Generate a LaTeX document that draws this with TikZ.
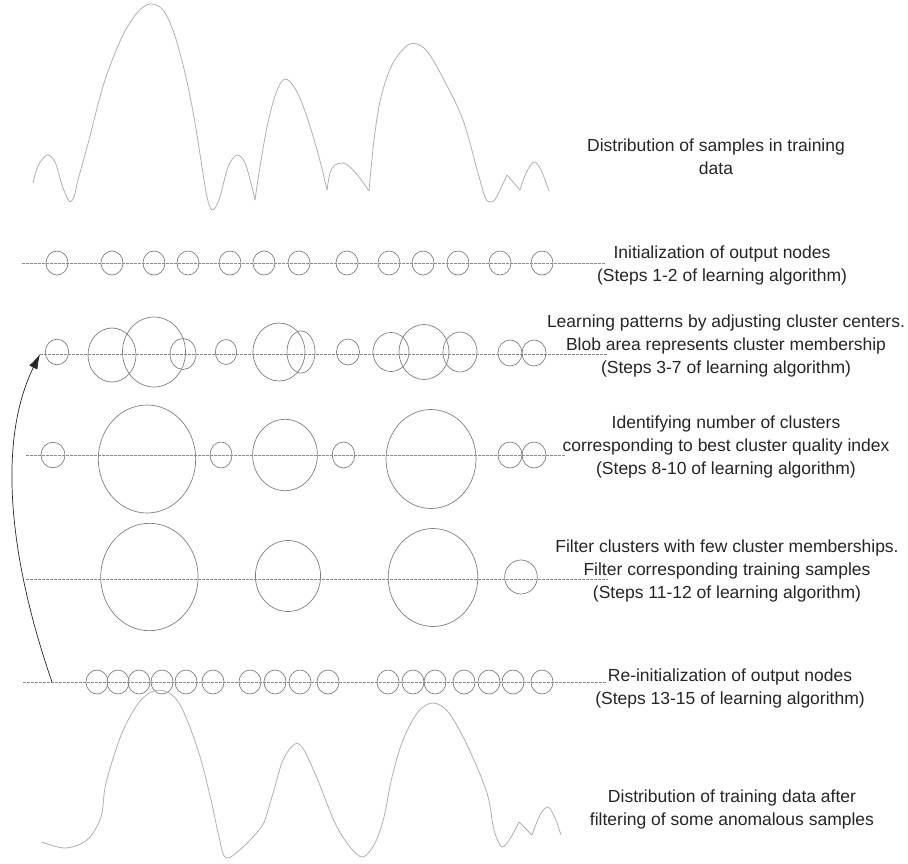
\documentclass[tikz,border=0pt]{standalone}
\usepackage{fontspec}
\setmainfont{Liberation Sans}
\usetikzlibrary{arrows.meta}
\definecolor{curvecol}{HTML}{B0B0B0}
\definecolor{circcol}{HTML}{808080}
\definecolor{dashcol}{HTML}{8C8C8C}
\definecolor{txtcol}{HTML}{262626}
\begin{document}
\begin{tikzpicture}[x=1pt,y=-1pt,
  curve/.style={draw=curvecol,line width=0.8pt,line join=round},
  blob/.style={draw=circcol,line width=0.7pt},
  dline/.style={draw=dashcol,line width=0.7pt,dash pattern=on 2.5pt off 1.5pt},
  lbl/.style={text=txtcol,align=center,inner sep=0pt,anchor=base,
    font=\fontsize{17.5}{23}\selectfont},
  loop/.style={draw=black!85,line width=0.7pt,-{Latex[length=15pt,width=9pt]}}]
\fill[white] (0,0) rectangle (908,863);
\useasboundingbox (0,0) rectangle (908,863);
% top distribution
\draw[curve] plot[smooth,tension=0.55] coordinates {(33,183) (38,166) (47,155) (55,162) (62,185) (69,201) (74,197) (78,180) (89,140) (104,83) (122,37) (137,13) (150,4) (163,10) (174,33) (185,73) (194,117) (202,167) (207,197) (212,210) (219,200) (228,167) (237,155) (245,163) (252,187) (255,200)};
\draw[curve] plot[smooth,tension=0.55] coordinates {(255,200) (259,173) (267,127) (276,93) (285,79) (296,90) (307,117) (319,157) (327,190)};
\draw[curve] plot[smooth,tension=0.55] coordinates {(327,190) (330,173) (335,165) (343,163) (350,167) (359,177) (369,191)};
\draw[curve] plot[smooth,tension=0.55] coordinates {(369,191) (374,140) (381,97) (393,63) (410,44) (426,50) (444,80) (463,120) (478,173) (485,197) (490,202) (496,198) (507,175)};
\draw[curve] (507,175) -- (520,190);
\draw[curve] plot[smooth,tension=0.55] coordinates {(520,190) (526,173) (534,162) (541,170) (549,191)};
% row 1
\draw[dline] (22,263) -- (605,263);
\foreach \x in {57,112,154,188,230,264,299,347,389,423,458,500,542}
  \draw[blob] (\x,263) ellipse[x radius=11pt,y radius=12pt];
% row 2
\coordinate (r2start) at (40,354);
\draw[dline] (r2start) -- (608,354);
\foreach \x/\y/\rx/\ry in {57/352/11.7/12.8,112/355/24/27,154/352/31.5/35,183/354/13/15.5,226/352/10.7/12.5,279/352/26/29,301/352/14/21,348/352/11.5/13,391/352/18/19.5,424/352/25/27.5,460/352/17/20,510/353/12/13,534/353/12/13}
  \draw[blob] (\x,\y) ellipse[x radius=\rx pt,y radius=\ry pt];
% row 3
\draw[dline] (26,455) -- (566,455);
\foreach \x/\y/\rx/\ry in {53/455/12/12.8,147/459/48.7/54,221/455/11/13,285/455/32.4/35.7,343.5/455/11.3/13,431/459/45/49.5,510/455/12/13,534/455/12/13}
  \draw[blob] (\x,\y) ellipse[x radius=\rx pt,y radius=\ry pt];
% row 4
\draw[dline] (26,579) -- (608,579);
\foreach \x/\y/\rx/\ry in {149.4/577/48.7/53.7,288/576/32.6/35.5,433/577.5/44.8/49,521/577/16.3/17}
  \draw[blob] (\x,\y) ellipse[x radius=\rx pt,y radius=\ry pt];
% row 5
\coordinate (r5start) at (52,682);
\draw[dline] (23,682) -- (607,682);
\foreach \x in {97,118,139,162,186,213,250,275,300,328,388,413,435,464,489,513,542}
  \draw[blob] (\x,682) ellipse[x radius=11pt,y radius=12pt];
% loop arrow
\draw[loop] (r5start) .. controls (5,546) and (0,435) .. (r2start);
% bottom distribution
\draw[curve] plot[smooth,tension=0.55] coordinates {(42,842) (65,848) (87,840) (101,817) (106,783) (122,733) (141,700) (160,690) (179,703) (198,750) (211,800) (219,837) (226,858) (243,847) (262,826) (268,810) (274,790) (283,760) (295,744) (304,750) (319,783) (335,823) (350,847) (363,857) (375,843) (384,817) (392,777) (403,740) (418,712) (433,703) (449,713) (468,747) (487,793) (494,830) (502,847) (511,837) (519,822)};
\draw[curve] (519,822) -- (532,835);
\draw[curve] plot[smooth,tension=0.55] coordinates {(532,835) (540,815) (548,807) (555,818) (561,835)};
% labels (base anchor = baseline of last line)
\node[lbl] (t1) at (716,174.5) {Distribution of samples in training\\data};
\node[lbl] (t2) at (722,281.5) {Initialization of output nodes\\(Steps 1-2 of learning algorithm)};
\node[lbl] (t3) at (726,373.5) {Learning patterns by adjusting cluster centers.\\Blob area represents cluster membership\\(Steps 3-7 of learning algorithm)};
\node[lbl] (t4) at (726,474.5) {Identifying number of clusters\\corresponding to best cluster quality index\\(Steps 8-10 of learning algorithm)};
\node[lbl] (t5) at (727,598.5) {Filter clusters with few cluster memberships.\\Filter corresponding training samples\\(Steps 11-12 of learning algorithm)};
\node[lbl] (t6) at (730,704.5) {Re-initialization of output nodes\\(Steps 13-15 of learning algorithm)};
\node[lbl] (t7) at (732,825.5) {Distribution of training data after\\filtering of some anomalous samples};
\end{tikzpicture}
\end{document}
